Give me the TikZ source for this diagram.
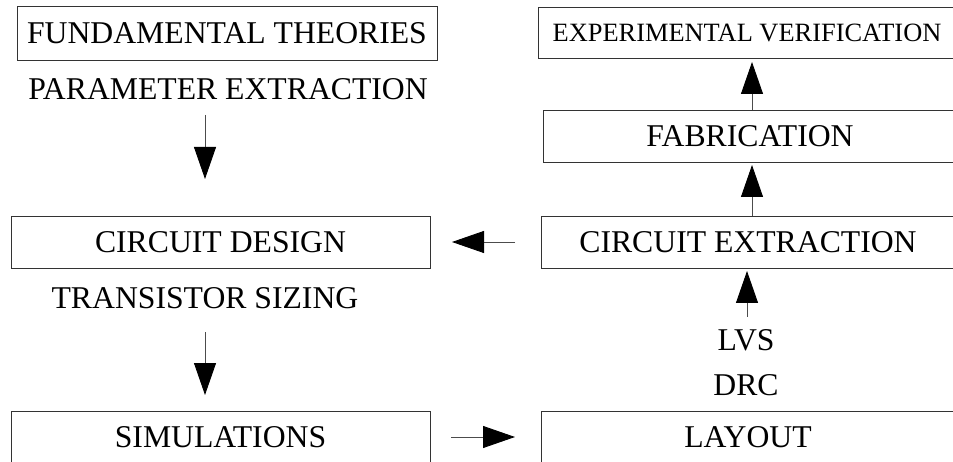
\documentclass[tikz,border=0pt]{standalone}
\usepackage{fontspec}
\setmainfont{Liberation Serif}
\usetikzlibrary{arrows.meta}
\begin{document}
\begin{tikzpicture}[x=1pt,y=-1pt,
  stage/.style={draw=black!80, line width=0.9pt, rectangle, inner sep=0pt,
    font=\fontsize{31.7}{31.7}\selectfont},
  note/.style={inner sep=0pt, font=\fontsize{31.7}{31.7}\selectfont},
  arr/.style={draw=black!70, line width=0.9pt,
    -{Triangle[length=32pt,width=22pt,color=black]}}]
  \useasboundingbox (0,0) rectangle (953,462);
  \clip (0,0) rectangle (953,462);

  % left column
  \node[stage, minimum width=420pt, minimum height=54pt] (ft) at (227,33) {FUNDAMENTAL THEORIES};
  \node[note] (pe) at (228,89) {PARAMETER EXTRACTION};
  \node[stage, minimum width=419pt, minimum height=52pt] (cd) at (220.5,242) {CIRCUIT DESIGN};
  \node[note] (ts) at (205,298) {TRANSISTOR SIZING};
  \node[stage, minimum width=419pt, minimum height=52pt] (sim) at (220.5,437) {SIMULATIONS};

  % right column
  \node[stage, minimum width=418pt, minimum height=51pt,
        font=\fontsize{26.4}{26.4}\selectfont] (ev) at (747,32.5) {EXPERIMENTAL VERIFICATION};
  \node[stage, minimum width=414pt, minimum height=52pt] (fab) at (750,136) {FABRICATION};
  \node[stage, minimum width=414pt, minimum height=52pt] (ce) at (748,242) {CIRCUIT EXTRACTION};
  \node[note] (lvs) at (746,340) {LVS};
  \node[note] (drc) at (746,385) {DRC};
  \node[stage, minimum width=414pt, minimum height=52pt] (lay) at (748,437) {LAYOUT};

  % arrow end points
  \coordinate (peA) at (205,115);  \coordinate (cdA) at (205,179);
  \coordinate (tsA) at (205,332);  \coordinate (simA) at (205,395);
  \coordinate (simB) at (451,437); \coordinate (layB) at (515,437);
  \coordinate (lvsA) at (747,317); \coordinate (ceA) at (747,271);
  \coordinate (ceB) at (752,216);  \coordinate (fabA) at (752,165);
  \coordinate (fabB) at (752,110); \coordinate (evA) at (752,62);
  \coordinate (ceC) at (515,242);  \coordinate (cdC) at (452,242);

  \draw[arr] (peA) -- (cdA);
  \draw[arr] (tsA) -- (simA);
  \draw[arr] (simB) -- (layB);
  \draw[arr] (lvsA) -- (ceA);
  \draw[arr] (ceB) -- (fabA);
  \draw[arr] (fabB) -- (evA);
  \draw[arr] (ceC) -- (cdC);
\end{tikzpicture}
\end{document}
